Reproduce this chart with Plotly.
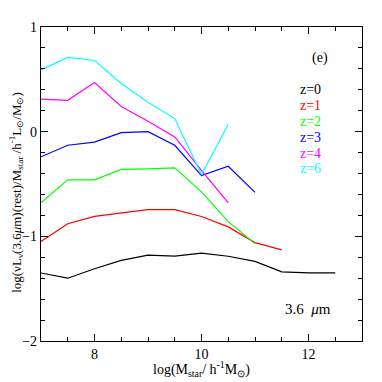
import plotly.graph_objects as go

# log stellar mass bins
log_mstar = [7.0, 7.5, 8.0, 8.5, 9.0, 9.5, 10.0, 10.5, 11.0, 11.5, 12.0, 12.5]

# log(nu L_nu(3.6um)/M_star) per redshift
lum_z0 = [-1.35, -1.40, -1.31, -1.23, -1.18, -1.19, -1.16, -1.19, -1.24, -1.34, -1.35, -1.35]
lum_z1 = [-1.05, -0.88, -0.81, -0.78, -0.745, -0.745, -0.81, -0.91, -1.06, -1.13]
lum_z2 = [-0.68, -0.46, -0.46, -0.36, -0.355, -0.345, -0.575, -0.86, -1.07]
lum_z3 = [-0.24, -0.13, -0.10, -0.01, 0.00, -0.13, -0.42, -0.33, -0.58]
lum_z4 = [0.31, 0.30, 0.47, 0.24, 0.10, -0.05, -0.37, -0.68]
lum_z6 = [0.59, 0.71, 0.68, 0.46, 0.28, 0.125, -0.41, 0.07]

series = [
    ('z=0', lum_z0, 'black'),
    ('z=1', lum_z1, '#ff0000'),
    ('z=2', lum_z2, '#00ff00'),
    ('z=3', lum_z3, '#0000ff'),
    ('z=4', lum_z4, '#ff00ff'),
    ('z=6', lum_z6, '#00ffff'),
]

FONT = 'Liberation Serif'

# the page body has an 8px margin, so the figure is drawn 8px in from the corner
PAGE_OFF = 8
PLOT_L, PLOT_R, PLOT_T, PLOT_B = 41, 362, 21, 341
PW, PH = PLOT_R - PLOT_L, PLOT_B - PLOT_T


def px_to_paper(px, py):
    return (px - PLOT_L) / PW, (PLOT_B - py) / PH


fig = go.Figure()
for name, vals, colour in series:
    fig.add_trace(go.Scatter(
        x=log_mstar[:len(vals)], y=vals, mode='lines', name=name,
        line=dict(color=colour, width=1.2), showlegend=False))

# legend drawn as coloured text, like the original
legend_y = [85, 101, 117, 134, 150, 165]
for (name, vals, colour), py in zip(series, legend_y):
    xp, yp = px_to_paper(298, py)
    fig.add_annotation(text=name, xref='paper', yref='paper', x=xp, y=yp,
                       xanchor='left', yanchor='middle', showarrow=False,
                       font=dict(family=FONT, size=14, color=colour))

xp, yp = px_to_paper(320, 53)
fig.add_annotation(text='(e)', xref='paper', yref='paper', x=xp, y=yp,
                   xanchor='center', yanchor='middle', showarrow=False,
                   font=dict(family=FONT, size=14, color='black'))
xp, yp = px_to_paper(283, 308)
fig.add_annotation(text='3.6  <i>μ</i>m', xref='paper', yref='paper', x=xp, y=yp,
                   xanchor='left', yanchor='middle', showarrow=False,
                   font=dict(family=FONT, size=15, color='black'))

# axis titles
xp, yp = px_to_paper(202, 370)
fig.add_annotation(text='log(M<sub>star</sub>/ h<sup>-1</sup>M<sub>⊙</sub>)',
                   xref='paper', yref='paper', x=xp, y=yp,
                   xanchor='center', yanchor='middle', showarrow=False,
                   font=dict(family=FONT, size=14, color='black'))
xp, yp = px_to_paper(16, 190)
fig.add_annotation(text='log(νL<sub>ν</sub>(3.6<i>μ</i>m)(rest)/M<sub>star</sub> /h<sup>-1</sup>L<sub>⊙</sub>/M<sub>⊙</sub>)',
                   xref='paper', yref='paper', textangle=-90, x=xp, y=yp,
                   xanchor='center', yanchor='middle', showarrow=False,
                   font=dict(family=FONT, size=13, color='black'))

axis_common = dict(
    showgrid=False, zeroline=False, showline=True, linecolor='black', linewidth=1.3,
    mirror='ticks', ticks='inside', ticklen=7, tickwidth=1, tickcolor='black',
    tickfont=dict(family=FONT, size=14, color='black'),
    fixedrange=True,
)

fig.update_xaxes(range=[7, 13], tick0=8, dtick=2,
                 minor=dict(dtick=0.5, ticklen=4, ticks='inside', tickcolor='black'),
                 **axis_common)
fig.update_yaxes(range=[-2, 1], tick0=0, dtick=1,
                 minor=dict(dtick=0.2, ticklen=4, ticks='inside', tickcolor='black'),
                 **axis_common)

fig.update_layout(
    width=382 - PAGE_OFF, height=382 - PAGE_OFF,
    margin=dict(l=PLOT_L - PAGE_OFF, r=382 - PLOT_R, t=PLOT_T - PAGE_OFF, b=382 - PLOT_B),
    plot_bgcolor='white', paper_bgcolor='white',
    font=dict(family=FONT, color='black'),
)

fig.write_html("out.html")
